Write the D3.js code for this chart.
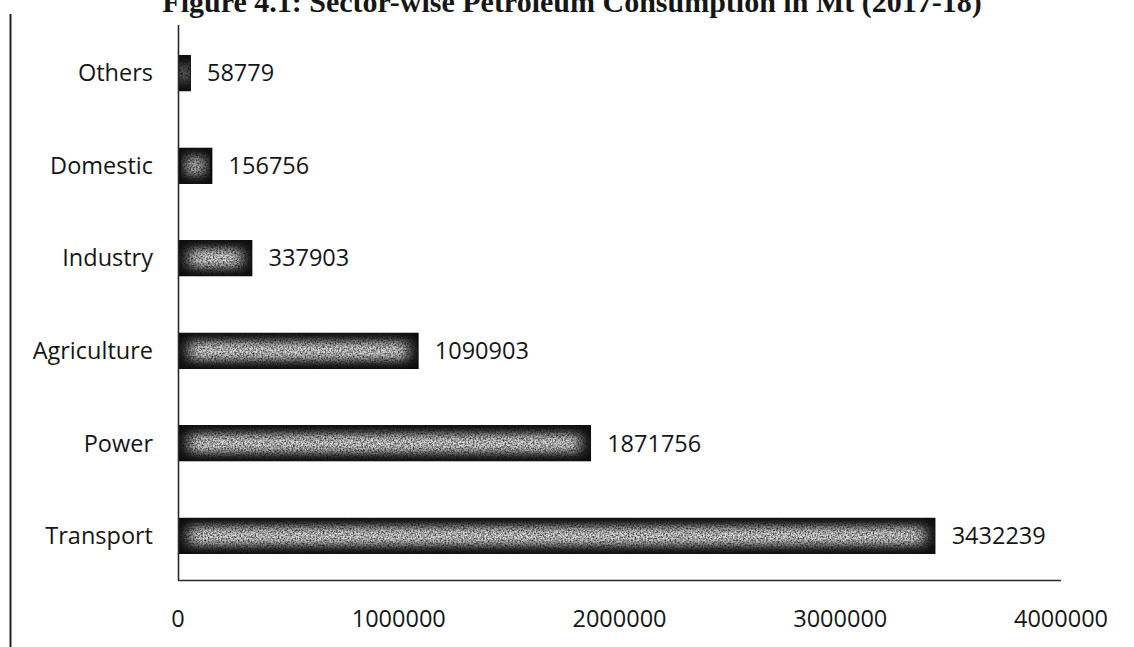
<!DOCTYPE html>
<html>
<head>
<meta charset="utf-8">
<script src="https://cdn.jsdelivr.net/npm/d3@7"></script>
<style>
  html, body { margin: 0; padding: 0; background: #fff; }
  svg { display: block; }
</style>
</head>
<body>
<svg id="chart" width="1134" height="647"></svg>
<script>
// Sector-wise petroleum consumption, 2017-18
const categories = ["Others", "Domestic", "Industry", "Agriculture", "Power", "Transport"];
const consumption = [58779, 156756, 337903, 1090903, 1871756, 3432239];
const tickValues = [0, 1000000, 2000000, 3000000, 4000000];
const titleText = "Figure 4.1: Sector-wise Petroleum Consumption in Mt (2017-18)";

const svg = d3.select("#chart");
const labelFont = "'Open Sans', 'DejaVu Sans', sans-serif";
const ink = "#161616";

const x = d3.scaleLinear().domain([0, 4000000]).range([178, 1061]);
const y = d3.scaleBand().domain(categories).range([29, 580])
  .paddingInner(0.605).paddingOuter(0.28);

// Grainy glow used inside each bar
const defs = svg.append("defs");
const f = defs.append("filter").attr("id", "grain")
  .attr("x", "-30%").attr("y", "-80%").attr("width", "160%").attr("height", "260%");
f.append("feGaussianBlur").attr("in", "SourceGraphic").attr("stdDeviation", "7 5").attr("result", "glow");
f.append("feTurbulence").attr("type", "fractalNoise").attr("baseFrequency", "0.6")
  .attr("numOctaves", 3).attr("seed", 11).attr("result", "noise");
f.append("feColorMatrix").attr("in", "noise").attr("type", "matrix")
  .attr("values", "0 0 0 0 0  0 0 0 0 0  0 0 0 0 0  0 0 0 -1.6 1.55").attr("result", "holes");
f.append("feComposite").attr("in", "glow").attr("in2", "holes").attr("operator", "in");

// Title (sits at the very top edge)
svg.append("text")
  .attr("x", 572).attr("y", 12)
  .attr("text-anchor", "middle")
  .attr("font-family", "'Liberation Serif', 'Times New Roman', serif")
  .attr("font-weight", "bold")
  .attr("font-size", 30)
  .attr("fill", ink)
  .text(titleText);

// Left frame line
svg.append("line").attr("x1", 10.5).attr("x2", 10.5).attr("y1", 14).attr("y2", 647)
  .attr("stroke", "#222").attr("stroke-width", 2);

// Bars
const bars = svg.append("g");
categories.forEach((c, i) => {
  const v = consumption[i];
  const x0 = x(0), w = x(v) - x(0), y0 = y(c), h = y.bandwidth();
  const clipId = "clip" + i;
  defs.append("clipPath").attr("id", clipId)
    .append("rect").attr("x", x0).attr("y", y0).attr("width", w).attr("height", h);
  const g = bars.append("g").attr("clip-path", `url(#${clipId})`);
  g.append("rect").attr("x", x0).attr("y", y0).attr("width", w).attr("height", h).attr("fill", "#0c0c0c");
  const inset = Math.min(11, w / 4);
  g.append("rect")
    .attr("x", x0 + inset).attr("y", y0 + 9)
    .attr("width", Math.max(0, w - 2 * inset)).attr("height", h - 18)
    .attr("fill", "#e2e2e2")
    .attr("filter", "url(#grain)");
});

// Axes
svg.append("line").attr("x1", x(0)).attr("x2", x(4000000)).attr("y1", 580.5).attr("y2", 580.5)
  .attr("stroke", "#2a2a2a").attr("stroke-width", 1.6);
svg.append("line").attr("x1", x(0) + 0.5).attr("x2", x(0) + 0.5).attr("y1", 25).attr("y2", 580.5)
  .attr("stroke", "#2a2a2a").attr("stroke-width", 1.6);

// Tick labels
svg.append("g").selectAll("text").data(tickValues).join("text")
  .attr("x", d => x(d)).attr("y", 627)
  .attr("text-anchor", "middle")
  .attr("font-family", labelFont).attr("font-size", 23.5).attr("fill", ink)
  .text(d => d3.format("d")(d));

// Category labels
svg.append("g").selectAll("text").data(categories).join("text")
  .attr("x", 153).attr("y", d => y(d) + y.bandwidth() / 2)
  .attr("dy", "0.35em")
  .attr("text-anchor", "end")
  .attr("font-family", labelFont).attr("font-size", 23.5).attr("fill", ink)
  .text(d => d);

// Value labels
svg.append("g").selectAll("text").data(categories).join("text")
  .attr("x", (d, i) => x(consumption[i]) + 16).attr("y", d => y(d) + y.bandwidth() / 2)
  .attr("dy", "0.35em")
  .attr("font-family", labelFont).attr("font-size", 23.5).attr("fill", ink)
  .text((d, i) => consumption[i]);
</script>
</body>
</html>
